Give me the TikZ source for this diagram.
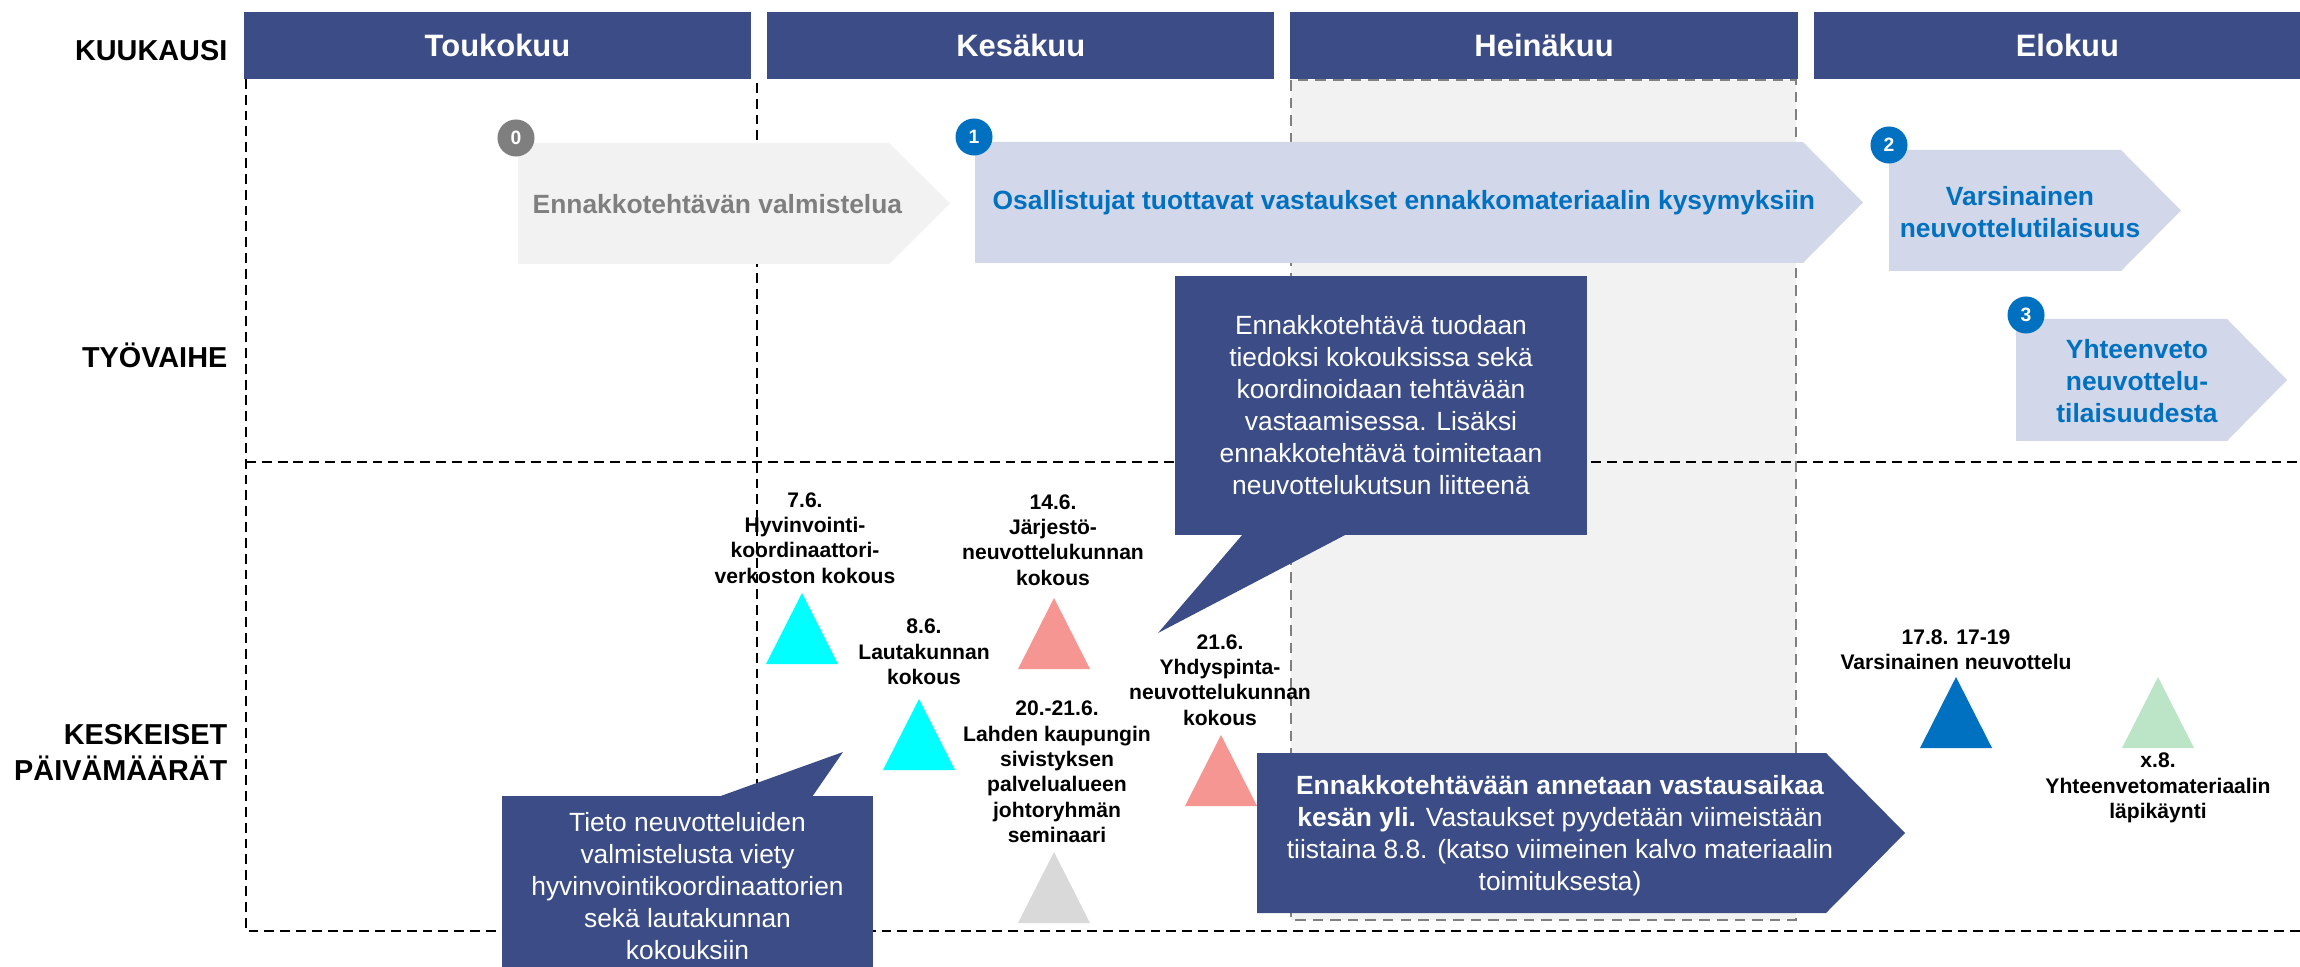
\documentclass[tikz,border=0pt]{standalone}
\usepackage{fontspec}
\setmainfont{Liberation Sans}
\usetikzlibrary{positioning}
\definecolor{headblue}{RGB}{59,76,134}
\definecolor{phasefill}{RGB}{210,216,234}
\definecolor{prepfill}{RGB}{242,242,242}
\definecolor{textblue}{RGB}{0,112,192}
\definecolor{prepgray}{RGB}{127,127,127}
\definecolor{framegray}{RGB}{128,128,128}
\definecolor{milecyan}{RGB}{0,255,255}
\definecolor{milepink}{RGB}{245,150,146}
\definecolor{milegreen}{RGB}{188,229,200}
\definecolor{milegray}{RGB}{217,217,217}
\newcommand{\phasearrow}[6]{\fill[#1] (#2,#5) -- (#3,#5) -- (#4,{(#5+#6)/2}) -- (#3,#6) -- (#2,#6) -- cycle;}
\newcommand{\milestonemark}[3]{\fill[#1] ({#2-36},{#3+71}) -- (#2,#3) -- ({#2+36},{#3+71}) -- cycle;}

\begin{document}
\begin{tikzpicture}[
    x=0.01cm, y=-0.01cm,
    node distance=5.23cm,
    on grid,
    month/.style={fill=headblue, text=white, minimum width=5.07cm, minimum height=0.67cm, inner sep=0pt, font=\fontsize{8.8}{10}\selectfont\bfseries},
    rowlabel/.style={anchor=east, align=right, inner sep=0pt, font=\fontsize{8.2}{10.2}\selectfont\bfseries},
    phasetext/.style={inner sep=0pt, align=center, font=\fontsize{7.5}{9.1}\selectfont\bfseries},
    badge/.style={circle, minimum size=0.37cm, inner sep=0pt, text=white, font=\fontsize{5.5}{6}\selectfont\bfseries},
    datelabel/.style={inner sep=0pt, align=center, font=\fontsize{6}{7.2}\selectfont\bfseries},
    infobox/.style={fill=headblue, inner sep=0pt, align=center, text=white, font=\fontsize{7.5}{9.1}\selectfont},
    griddash/.style={black, line width=0.6pt, dash pattern=on 2.8pt off 1.7pt},
    julyframe/.style={draw=framegray, fill=prepfill, line width=0.8pt, dash pattern=on 3pt off 2pt}]
       \useasboundingbox (0,0) rectangle (2300,967);

       % heinakuu highlight and grid
       \draw[julyframe] (1291,80) rectangle (1796,920);
       \draw[griddash] (246,79) -- (246,931) -- (2300,931);
       \draw[griddash] (246,462) -- (2300,462);
       \draw[griddash] (757,83) -- (757,931);

       % months
       \node[month] (may) at (497.5,45.5) {Toukokuu};
       \node[month] (june) [right=of may] {Kesäkuu};
       \node[month] (july) [right=of june] {Heinäkuu};
       \node[month] (aug) [right=of july] {Elokuu};

       \node[rowlabel] (row_month) at (228,51) {KUUKAUSI};
       \node[rowlabel] (row_phase) at (228,355) {TYÖVAIHE};
       \node[rowlabel] (row_dates) at (228,752) {KESKEISET\\PÄIVÄMÄÄRÄT};

       % work phases
       \phasearrow{prepfill}{518}{889}{950}{143}{264}
       \node[phasetext, anchor=west, text=prepgray] (prep) at (532,204) {Ennakkotehtävän valmistelua};
       \node[badge, fill=prepgray] (badge_0) at (516,138) {0};

       \phasearrow{phasefill}{975}{1803}{1863}{142}{263}
       \node[phasetext, anchor=west, text=textblue] (answers) at (992,203) {Osallistujat tuottavat vastaukset ennakkomateriaalin kysymyksiin};
       \node[badge, fill=textblue] (badge_1) at (974,137) {1};

       \phasearrow{phasefill}{1889}{2121}{2181}{150}{271}
       \node[phasetext, text=textblue] (negotiation) at (2020,212) {Varsinainen\\neuvottelutilaisuus};
       \node[badge, fill=textblue] (badge_2) at (1889,145) {2};

       \phasearrow{phasefill}{2016}{2227}{2287}{319}{441}
       \node[phasetext, text=textblue] (summary) at (2137,381) {Yhteenveto\\neuvottelu-\\tilaisuudesta};
       \node[badge, fill=textblue] (badge_3) at (2026,315) {3};

       % key dates
       \milestonemark{milecyan}{802}{593}
       \node[datelabel] (meet_7_6) at (805,538) {7.6.\\Hyvinvointi-\\koordinaattori-\\verkoston kokous};
       \milestonemark{milecyan}{919}{699}
       \node[datelabel] (meet_8_6) at (924,652) {8.6.\\Lautakunnan\\kokous};
       \milestonemark{milepink}{1054}{598}
       \node[datelabel] (meet_14_6) at (1053,540) {14.6.\\Järjestö-\\neuvottelukunnan\\kokous};
       \milestonemark{milegray}{1054}{852}
       \node[datelabel] (meet_20_6) at (1057,772) {20.-21.6.\\Lahden kaupungin\\sivistyksen\\palvelualueen\\johtoryhmän\\seminaari};
       \milestonemark{milepink}{1221}{735}
       \node[datelabel] (meet_21_6) at (1220,680) {21.6.\\Yhdyspinta-\\neuvottelukunnan\\kokous};
       \milestonemark{textblue}{1956}{677}
       \node[datelabel] (meet_17_8) at (1956,650) {17.8. 17-19\\Varsinainen neuvottelu};
       \milestonemark{milegreen}{2158}{677}
       \node[datelabel] (meet_x_8) at (2158,788) {x.8.\\Yhteenvetomateriaalin\\läpikäynti};

       % callouts
       \fill[headblue] (1243,534) -- (1158,633) -- (1347,534) -- cycle;
       \node[infobox, minimum width=4.12cm, minimum height=2.59cm] (task_info) at (1381,405.5) {Ennakkotehtävä tuodaan\\tiedoksi kokouksissa sekä\\koordinoidaan tehtävään\\vastaamisessa. Lisäksi\\ennakkotehtävä toimitetaan\\neuvottelukutsun liitteenä};

       \fill[headblue] (718,797) -- (843,752) -- (812,797) -- cycle;
       \node[infobox, minimum width=3.71cm, minimum height=1.80cm] (prep_info) at (687.5,886) {Tieto neuvotteluiden\\valmistelusta viety\\hyvinvointikoordinaattorien\\sekä lautakunnan\\kokouksiin};

       \phasearrow{headblue}{1257}{1826}{1905}{753}{913}
       \node[infobox, fill=none] (answer_time) at (1560,836) {\textbf{Ennakkotehtävään annetaan vastausaikaa}\\\textbf{kesän yli.} Vastaukset pyydetään viimeistään\\tiistaina 8.8. (katso viimeinen kalvo materiaalin\\toimituksesta)};
    \end{tikzpicture}
\end{document}
